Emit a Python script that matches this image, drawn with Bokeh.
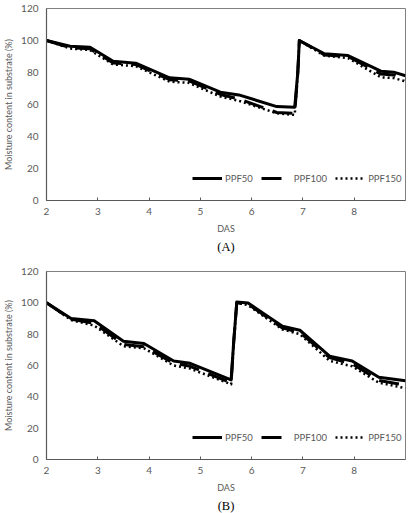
from bokeh.plotting import figure
from bokeh.layouts import column
from bokeh.models import FixedTicker, Range1d, Legend, LegendItem, Title
from bokeh.embed import file_html
from bokeh.resources import INLINE

# ---------------- Data: panel A ----------------
a_x50 = [2.0, 2.46, 2.85, 3.3, 3.74, 4.4, 4.78, 5.39, 5.75, 6.49, 6.84, 6.90, 6.93, 7.42, 7.88, 8.52, 8.77, 9.0]
a_y50 = [100, 96.4, 95.8, 87.0, 85.8, 76.7, 75.8, 67.7, 66.0, 58.7, 58.3, 80.0, 100, 91.7, 90.6, 80.8, 80.2, 78.0]
a_x100 = [2.0, 2.46, 2.85, 3.3, 3.74, 4.4, 4.78, 5.39, 5.75, 6.49, 6.84, 6.90, 6.93, 7.42, 7.88, 8.52, 8.77, 9.0]
a_y100 = [100, 95.6, 94.8, 86.0, 85.0, 75.5, 74.8, 66.3, 63.5, 55.0, 54.5, 80.0, 100, 91.0, 90.0, 79.0, 78.5, 75.8]
a_x150 = [2.0, 2.46, 2.85, 3.3, 3.74, 4.4, 4.78, 5.39, 5.75, 6.49, 6.84, 6.90, 6.93, 7.42, 7.88, 8.52, 8.77, 9.0]
a_y150 = [100, 95.0, 94.0, 85.0, 84.0, 74.3, 73.5, 65.0, 62.3, 54.5, 53.5, 80.0, 100, 90.5, 89.0, 77.0, 76.5, 74.5]

# ---------------- Data: panel B ----------------
b_x50 = [2.0, 2.48, 2.93, 3.5, 3.9, 4.48, 4.8, 5.6, 5.65, 5.71, 5.93, 6.6, 6.94, 7.52, 7.96, 8.48, 9.0]
b_y50 = [100, 90.0, 88.5, 75.5, 74.0, 62.9, 61.4, 50.8, 75.0, 100.5, 99.9, 85.0, 82.5, 66.0, 62.9, 52.5, 50.3]
b_x100 = [2.0, 2.48, 2.93, 3.5, 3.9, 4.48, 4.8, 5.6, 5.65, 5.71, 5.93, 6.6, 6.94, 7.52, 7.96, 8.48, 9.0]
b_y100 = [100, 89.5, 87.0, 73.5, 72.0, 61.5, 59.5, 49.0, 75.0, 100.0, 99.2, 84.0, 81.0, 65.0, 61.0, 50.5, 47.5]
b_x150 = [2.0, 2.48, 2.93, 3.5, 3.9, 4.48, 4.8, 5.6, 5.65, 5.71, 5.93, 6.6, 6.94, 7.52, 7.96, 8.48, 9.0]
b_y150 = [100, 89.0, 85.5, 72.3, 71.0, 60.0, 58.0, 48.0, 75.0, 100.0, 98.5, 83.0, 80.0, 63.0, 59.5, 49.0, 45.5]

series_names = ["PPF50", "PPF100", "PPF150"]
x_ticks = [2, 3, 4, 5, 6, 7, 8]
y_ticks = [0, 20, 40, 60, 80, 100, 120]
x_title = "DAS"
y_title = "Moisture content in substrate (%)"

FONT = "Lato"
GREY = "#595959"


def make_panel(xs, ys, caption, height, top, bottom, left):
    p = figure(width=411, height=height, output_backend="svg", toolbar_location=None,
               x_range=Range1d(2, 9), y_range=Range1d(0, 120),
               min_border_left=left, min_border_right=411 - 405,
               min_border_top=top, min_border_bottom=bottom)
    p.xgrid.visible = False
    p.ygrid.visible = False
    p.outline_line_color = "#808080"
    p.outline_line_width = 1
    p.background_fill_color = "white"
    p.border_fill_color = "white"

    styles = [dict(line_dash="solid", line_width=3),
              dict(line_dash="20 10", line_width=3),
              dict(line_dash="2 3", line_width=2.5)]
    renderers = []
    for x, y, st in zip(xs, ys, styles):
        r = p.line(x, y, line_color="black", line_join="round", **st)
        renderers.append(r)

    items = [LegendItem(label=n, renderers=[r]) for n, r in zip(series_names, renderers)]
    leg = Legend(items=items, orientation="horizontal", location=(146, 16),
                 border_line_color=None, background_fill_alpha=0,
                 glyph_width=30, glyph_height=12, label_height=12,
                 label_standoff=3, spacing=8, padding=0, margin=0,
                 label_text_font=FONT, label_text_font_size="9.5px",
                 label_text_color=GREY)
    p.add_layout(leg, "center")

    for ax in (p.xaxis[0], p.yaxis[0]):
        ax.axis_line_color = GREY
        ax.axis_line_width = 1.2
        ax.major_label_text_font = FONT
        ax.major_label_text_font_size = "10px"
        ax.major_label_text_color = GREY
        ax.axis_label_text_font = FONT
        ax.axis_label_text_font_size = "9px"
        ax.axis_label_text_font_style = "normal"
        ax.axis_label_text_color = GREY
        ax.minor_tick_line_color = None
        ax.major_tick_line_color = GREY

    p.xaxis.ticker = FixedTicker(ticks=x_ticks)
    p.yaxis.ticker = FixedTicker(ticks=y_ticks)
    p.xaxis.major_tick_in = 3
    p.xaxis.major_tick_out = 0
    p.yaxis.major_tick_in = 0
    p.yaxis.major_tick_out = 0
    p.xaxis.major_label_standoff = 7
    p.yaxis.major_label_standoff = 8
    p.xaxis.axis_label = x_title
    p.yaxis.axis_label = y_title
    p.xaxis.axis_label_standoff = 5
    p.yaxis.axis_label_standoff = 4

    cap = Title(text=caption, align="center", text_font="Liberation Serif",
                text_font_size="12.5px", text_font_style="normal", text_color="#000000",
                standoff=2)
    p.add_layout(cap, "below")
    return p


pa = make_panel([a_x50, a_x100, a_x150], [a_y50, a_y100, a_y150], "(A)",
                height=256, top=8, bottom=56, left=43)
pb = make_panel([b_x50, b_x100, b_x150], [b_y50, b_y100, b_y150], "(B)",
                height=257, top=15, bottom=53, left=44)

layout = column(pa, pb, spacing=0)
open("out.html", "w").write(file_html(layout, INLINE))
